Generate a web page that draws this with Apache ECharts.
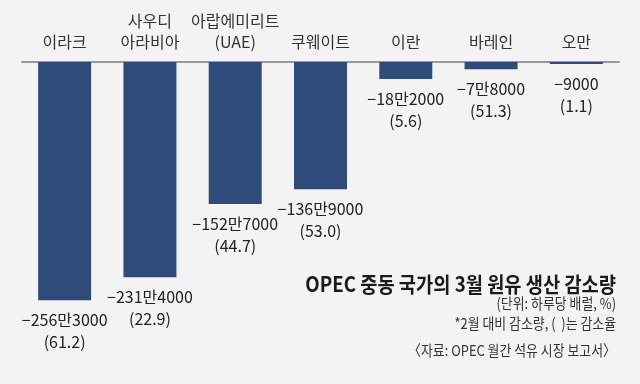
<!DOCTYPE html>
<html>
<head>
<meta charset="utf-8">
<script src="https://cdn.jsdelivr.net/npm/echarts@6/dist/echarts.min.js"></script>
<style>
html,body{margin:0;padding:0;background:#f3f3f3;}
#c{width:640px;height:384px;}
</style>
</head>
<body>
<div id="c"></div>
<script>
var categories = ['이라크', '사우디\n아라비아', '아랍에미리트\n(UAE)', '쿠웨이트', '이란', '바레인', '오만'];
var decreases = [-2563000, -2314000, -1527000, -1369000, -182000, -78000, -9000];
var rates = [61.2, 22.9, 44.7, 53.0, 5.6, 51.3, 1.1];
var titleText = 'OPEC 중동 국가의 3월 원유 생산 감소량';
var unitText = '(단위: 하루당 배럴, %)';
var noteText = '*2월 대비 감소량, (  )는 감소율';
var sourceText = '〈자료: OPEC 월간 석유 시장 보고서〉';

var FONT = "'Noto Sans CJK KR', 'Noto Sans', sans-serif";

function fmt(v) {
  var a = Math.abs(v);
  var man = Math.floor(a / 10000);
  var rest = a % 10000;
  var s = man > 0 ? (man + '만' + (rest === 0 ? '' : String(rest))) : String(rest);
  return (v < 0 ? '\u2212' : '') + s;
}

var chart = echarts.init(document.getElementById('c'));
chart.setOption({
  backgroundColor: '#f3f3f3',
  animation: false,
  grid: { left: 22, right: 21, top: 62, bottom: 43 },
  xAxis: {
    type: 'category',
    position: 'top',
    data: categories,
    axisLine: { onZero: false, lineStyle: { color: '#9a9a9a', width: 2 } },
    axisTick: { show: false },
    axisLabel: {
      fontFamily: FONT, fontSize: 16, color: '#333', lineHeight: 21, margin: 10, interval: 0
    }
  },
  yAxis: {
    type: 'value', min: -3000000, max: 0, show: false,
    splitLine: { show: false }
  },
  series: [{
    type: 'bar',
    data: decreases,
    barWidth: 53,
    barMinHeight: 2,
    itemStyle: { color: '#2f4b7a' },
    label: {
      show: true,
      position: 'bottom',
      distance: 9,
      fontFamily: FONT,
      fontSize: 16,
      lineHeight: 22,
      color: '#222',
      formatter: function (p) {
        return fmt(p.value) + '\n(' + rates[p.dataIndex].toFixed(1) + ')';
      }
    }
  }],
  graphic: [
    { type: 'text', x: 616, y: 284, scaleX: 0.89,
      style: { text: titleText, x: 0, y: 0, align: 'right', verticalAlign: 'middle',
        font: 'bold 21px ' + FONT, fill: '#1a1a1a' } },
    { type: 'text', x: 616, y: 303, scaleX: 0.86,
      style: { text: unitText, x: 0, y: 0, align: 'right', verticalAlign: 'middle',
        font: '15px ' + FONT, fill: '#333' } },
    { type: 'text', x: 616, y: 323, scaleX: 0.86,
      style: { text: noteText, x: 0, y: 0, align: 'right', verticalAlign: 'middle',
        font: '15px ' + FONT, fill: '#333' } },
    { type: 'text', x: 616, y: 350, scaleX: 0.86,
      style: { text: sourceText, x: 0, y: 0, align: 'right', verticalAlign: 'middle',
        font: '15px ' + FONT, fill: '#333' } }
  ]
});
</script>
</body>
</html>
